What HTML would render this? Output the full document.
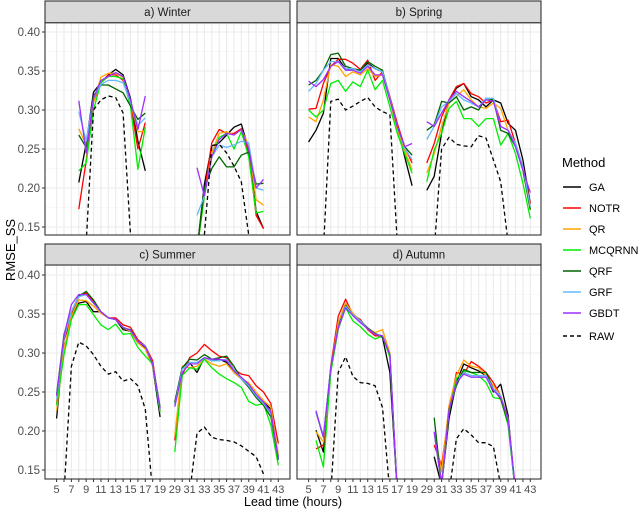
<!DOCTYPE html>
<html><head><meta charset="utf-8">
<style>
html,body{margin:0;padding:0;background:#fff;overflow:hidden;width:640px;height:513px;}
svg{display:block;font-family:"Liberation Sans",Arial,sans-serif;}
</style></head>
<body>
<svg id="chart" width="640" height="513" viewBox="0 0 640 513" xmlns="http://www.w3.org/2000/svg"></svg>
<script>
const n = null;
const categories = [5,6,7,8,9,10,11,12,13,14,15,16,17,18,19,29,30,31,32,33,34,35,36,37,38,39,40,41,42,43];
const tickLabels = [5,7,9,11,13,15,17,19,29,31,33,35,37,39,41,43];
const yTicks = [0.15,0.20,0.25,0.30,0.35,0.40];
const yTickLabels = ["0.15","0.20","0.25","0.30","0.35","0.40"];
const methods = ["GA","NOTR","QR","MCQRNN","QRF","GRF","GBDT","RAW"];
const panelTitles = ["a) Winter","b) Spring","c) Summer","d) Autumn"];

// Winter
const winterGA     = [n,n,n,0.207,0.257,0.323,0.335,0.345,0.352,0.345,0.315,0.260,0.222,n,n, n,n,n,0.12,0.205,0.254,0.258,0.268,0.278,0.282,0.250,0.170,0.148,n,n];
const winterNOTR   = [n,n,n,0.173,0.235,0.310,0.335,0.345,0.345,0.338,0.310,0.250,0.284,n,n, n,n,n,0.12,0.195,0.258,0.275,0.270,0.270,0.276,0.245,0.165,0.148,n,n];
const winterQR     = [n,n,n,0.276,0.255,0.310,0.342,0.347,0.347,0.342,0.310,0.272,0.273,n,n, n,n,n,0.12,0.190,0.245,0.270,0.272,0.268,0.275,0.255,0.185,0.178,n,n];
const winterMCQRNN = [n,n,n,0.222,0.232,0.300,0.335,0.343,0.343,0.340,0.305,0.224,0.278,n,n, n,n,n,0.12,0.190,0.240,0.265,0.270,0.250,0.272,0.240,0.168,0.170,n,n];
const winterQRF    = [n,n,n,0.268,0.252,0.318,0.332,0.332,0.327,0.322,0.305,0.288,0.296,n,n, n,n,n,0.12,0.200,0.225,0.240,0.227,0.227,0.242,0.246,0.205,0.206,n,n];
const winterGRF    = [n,n,n,0.298,0.260,0.315,0.333,0.338,0.338,0.335,0.310,0.280,0.290,n,n, n,n,n,0.165,0.190,0.240,0.255,0.252,0.255,0.260,0.258,0.200,0.197,n,n];
const winterGBDT   = [n,n,n,0.312,0.245,0.315,0.338,0.343,0.348,0.343,0.313,0.275,0.318,n,n, n,n,n,0.226,0.190,0.240,0.262,0.270,0.268,0.275,0.250,0.200,0.211,n,n];
const winterRAW    = [n,n,n,n,0.13,0.300,0.313,0.318,0.316,0.296,0.14,n,n,n,n, n,n,n,n,0.14,0.254,0.256,0.245,0.228,0.208,0.14,n,n,n,n];

// Spring
const springGA     = [0.259,0.274,0.296,0.366,0.366,0.353,0.353,0.351,0.360,0.353,0.349,0.313,0.279,0.240,0.203, 0.197,0.215,0.270,0.313,0.328,0.334,0.317,0.313,0.304,0.313,0.309,0.283,0.274,0.236,0.180];
const springNOTR   = [0.301,0.302,0.334,0.356,0.365,0.365,0.360,0.352,0.364,0.338,0.349,0.317,0.283,0.253,0.232, 0.232,0.257,0.291,0.313,0.330,0.334,0.321,0.317,0.309,0.313,0.285,0.287,0.257,0.227,0.180];
const springQR     = [0.291,0.285,0.313,0.358,0.356,0.343,0.349,0.345,0.353,0.343,0.345,0.313,0.274,0.249,0.223, 0.219,0.244,0.279,0.309,0.317,0.326,0.313,0.304,0.302,0.309,0.302,0.274,0.257,0.223,0.172];
const springMCQRNN = [0.300,0.291,0.300,0.334,0.338,0.324,0.336,0.330,0.351,0.326,0.338,0.304,0.270,0.244,0.219, 0.208,0.249,0.270,0.302,0.311,0.289,0.289,0.279,0.289,0.289,0.255,0.270,0.244,0.206,0.161];
const springQRF    = [0.332,0.338,0.351,0.371,0.373,0.356,0.353,0.351,0.362,0.356,0.351,0.315,0.279,0.253,0.242, 0.274,0.281,0.311,0.309,0.317,0.300,0.304,0.300,0.315,0.313,0.274,0.270,0.253,0.223,0.172];
const springGRF    = [0.324,0.334,0.351,0.362,0.362,0.353,0.353,0.349,0.358,0.353,0.349,0.315,0.279,0.251,0.236, 0.262,0.279,0.304,0.311,0.321,0.313,0.309,0.304,0.315,0.315,0.279,0.274,0.257,0.227,0.176];
const springGBDT   = [0.337,0.330,0.339,0.356,0.362,0.351,0.351,0.347,0.356,0.345,0.345,0.313,0.279,0.253,0.257, 0.285,0.279,0.296,0.313,0.324,0.317,0.311,0.304,0.313,0.311,0.279,0.274,0.253,0.223,0.194];
const springRAW    = [n,n,0.12,0.311,0.314,0.300,0.305,0.311,0.316,0.304,0.298,0.294,0.13,n,n, n,0.12,0.250,0.265,0.256,0.254,0.253,0.267,0.264,0.236,0.208,0.13,n,n,n];

// Summer
const summerGA     = [0.216,0.317,0.345,0.364,0.366,0.353,0.353,0.345,0.343,0.330,0.328,0.313,0.307,0.283,0.218, 0.237,0.281,0.288,0.275,0.294,0.290,0.292,0.288,0.275,0.267,0.258,0.245,0.237,0.228,0.167];
const summerNOTR   = [0.235,0.317,0.349,0.372,0.377,0.366,0.353,0.345,0.345,0.336,0.333,0.317,0.309,0.290,0.226, 0.188,0.271,0.294,0.300,0.311,0.303,0.296,0.294,0.279,0.273,0.271,0.258,0.250,0.235,0.184];
const summerQR     = [0.226,0.305,0.347,0.368,0.367,0.360,0.351,0.345,0.343,0.332,0.328,0.313,0.305,0.283,0.228, 0.194,0.283,0.281,0.283,0.292,0.286,0.283,0.286,0.275,0.267,0.262,0.250,0.239,0.231,0.169];
const summerMCQRNN = [0.233,0.298,0.343,0.362,0.362,0.349,0.336,0.330,0.337,0.324,0.325,0.307,0.296,0.286,0.224, 0.173,0.271,0.281,0.279,0.292,0.281,0.273,0.267,0.262,0.256,0.238,0.233,0.235,0.207,0.156];
const summerQRF    = [0.247,0.324,0.353,0.373,0.379,0.368,0.353,0.345,0.343,0.332,0.330,0.315,0.309,0.286,0.231, 0.235,0.281,0.292,0.291,0.298,0.292,0.294,0.296,0.283,0.267,0.256,0.243,0.233,0.218,0.163];
const summerGRF    = [0.241,0.319,0.353,0.372,0.375,0.364,0.353,0.345,0.343,0.333,0.329,0.315,0.309,0.286,0.228, 0.233,0.279,0.288,0.288,0.294,0.290,0.290,0.292,0.279,0.267,0.258,0.245,0.235,0.222,0.165];
const summerGBDT   = [0.245,0.322,0.362,0.375,0.375,0.364,0.353,0.345,0.343,0.333,0.329,0.315,0.308,0.286,0.229, 0.231,0.275,0.286,0.286,0.294,0.292,0.292,0.290,0.277,0.269,0.260,0.247,0.237,0.224,0.165];
const summerRAW    = [n,0.12,0.283,0.314,0.309,0.298,0.283,0.273,0.276,0.264,0.267,0.258,0.228,0.12,n, n,n,0.12,0.197,0.205,0.192,0.189,0.188,0.186,0.181,0.174,0.167,0.145,n,n];

// Autumn
const autumnGA     = [n,0.201,0.173,0.279,0.334,0.362,0.349,0.341,0.332,0.324,0.320,0.275,0.12,n,n, n,0.167,0.13,0.216,0.262,0.286,0.281,0.277,0.271,0.250,0.260,0.220,0.12,n,n];
const autumnNOTR   = [n,0.177,0.182,0.283,0.347,0.369,0.349,0.343,0.330,0.322,0.322,0.296,0.12,n,n, n,0.182,0.156,0.224,0.275,0.273,0.289,0.283,0.275,0.262,0.245,0.216,0.12,n,n];
const autumnQR     = [n,0.199,0.186,0.279,0.339,0.364,0.351,0.341,0.332,0.326,0.330,0.300,0.12,n,n, n,0.199,0.148,0.233,0.271,0.291,0.283,0.281,0.271,0.258,0.245,0.216,0.12,n,n];
const autumnMCQRNN = [n,0.188,0.154,0.275,0.330,0.358,0.341,0.334,0.324,0.318,0.322,0.294,0.12,n,n, n,0.199,0.13,0.224,0.267,0.277,0.275,0.271,0.262,0.243,0.241,0.207,0.12,n,n];
const autumnQRF    = [n,0.224,0.192,0.281,0.332,0.361,0.349,0.341,0.332,0.325,0.321,0.298,0.12,n,n, n,0.217,0.13,0.228,0.258,0.279,0.275,0.275,0.275,0.254,0.241,0.211,0.12,n,n];
const autumnGRF    = [n,0.224,0.194,0.281,0.332,0.360,0.349,0.341,0.331,0.324,0.322,0.298,0.12,n,n, n,0.199,0.13,0.226,0.262,0.275,0.271,0.271,0.271,0.254,0.245,0.214,0.12,n,n];
const autumnGBDT   = [n,0.226,0.192,0.281,0.332,0.358,0.348,0.339,0.331,0.324,0.322,0.298,0.12,n,n, n,0.199,0.13,0.226,0.262,0.273,0.269,0.269,0.269,0.252,0.243,0.216,0.125,n,n];
const autumnRAW    = [n,n,n,0.12,0.275,0.295,0.270,0.262,0.261,0.258,0.230,0.12,n,n,n, n,n,n,0.12,0.190,0.203,0.195,0.185,0.185,0.180,0.13,n,n,n,n];

const panelSeries = [
  [winterGA,winterNOTR,winterQR,winterMCQRNN,winterQRF,winterGRF,winterGBDT,winterRAW],
  [springGA,springNOTR,springQR,springMCQRNN,springQRF,springGRF,springGBDT,springRAW],
  [summerGA,summerNOTR,summerQR,summerMCQRNN,summerQRF,summerGRF,summerGBDT,summerRAW],
  [autumnGA,autumnNOTR,autumnQR,autumnMCQRNN,autumnQRF,autumnGRF,autumnGBDT,autumnRAW]
];

const colors = {GA:"#000000",NOTR:"#ff0000",QR:"#ffa500",MCQRNN:"#00ee00",QRF:"#006400",GRF:"#63b8ff",GBDT:"#9b30ff",RAW:"#000000"};
const NS = "http://www.w3.org/2000/svg";
const svg = document.getElementById("chart");
function mk(tag, attrs, parent){ const e=document.createElementNS(NS,tag); for(const k in attrs) e.setAttribute(k,attrs[k]); (parent||svg).appendChild(e); return e; }

const panels = [
  {x0:45,x1:290,y0:22.7,y1:235,ytop:32,strip:1},
  {x0:297,x1:541,y0:22.7,y1:235,ytop:32,strip:1},
  {x0:45,x1:290,y0:265,y1:479,ytop:275,strip:244},
  {x0:297,x1:541,y0:265,y1:479,ytop:275,strip:244}
];
function slot(k){ return k<15 ? k : k+1; }
function xScale(p,k){ return p.x0 + 11.6 + slot(k)*7.39; }
function yScale(p,v){ return p.ytop + (0.40 - v)*780; }

const defs = mk("defs",{});
panels.forEach((p,pi)=>{
  const cp = mk("clipPath",{id:"clip"+pi},defs);
  mk("rect",{x:p.x0,y:p.y0,width:p.x1-p.x0,height:p.y1-p.y0},cp);
});

panels.forEach((p,pi)=>{
  const g = mk("g",{});
  
  
  mk("rect",{x:p.x0,y:p.y0,width:p.x1-p.x0,height:p.y1-p.y0,fill:"#fff"},g);
  for(let i=0;i<yTicks.length;i++){
    const y = yScale(p,yTicks[i]-0.025);
    if(y>p.y0 && y<p.y1) mk("line",{x1:p.x0,x2:p.x1,y1:y,y2:y,stroke:"#f2f2f2","stroke-width":0.6},g);
  }
  { const y=yScale(p,0.425); if(y>p.y0) mk("line",{x1:p.x0,x2:p.x1,y1:y,y2:y,stroke:"#f2f2f2","stroke-width":0.6},g); }
  yTicks.forEach(v=>{ const y=yScale(p,v); mk("line",{x1:p.x0,x2:p.x1,y1:y,y2:y,stroke:"#ebebeb","stroke-width":1.1},g); });
  categories.forEach((c,k)=>{ const x=xScale(p,k); mk("line",{x1:x,x2:x,y1:p.y0,y2:p.y1,stroke:"#ebebeb","stroke-width":1.1},g); });
  const sg = mk("g",{"clip-path":"url(#clip"+pi+")"},g);
  panelSeries[pi].forEach((arr,si)=>{
    const m = methods[si];
    let d="", pen=false;
    arr.forEach((v,k)=>{
      if(v===null){ pen=false; return; }
      if(k===15) pen=false;
      d += (pen?"L":"M") + xScale(p,k).toFixed(1) + "," + yScale(p,v).toFixed(1);
      pen=true;
    });
    const path = mk("path",{d:d,fill:"none",stroke:colors[m],"stroke-width":1.3,"stroke-linejoin":"round"},sg);
    if(m==="RAW") path.setAttribute("stroke-dasharray","4,3");
    
    
  });
  mk("rect",{x:p.x0,y:p.y0,width:p.x1-p.x0,height:p.y1-p.y0,fill:"none",stroke:"#333","stroke-width":1.1},g);
  const st = mk("rect",{x:p.x0,y:p.strip,width:p.x1-p.x0,height:p.y0-p.strip,fill:"#d9d9d9",stroke:"#333","stroke-width":1.1},g);
  
  
  const tt = mk("text",{x:(p.x0+p.x1)/2,y:(p.strip+p.y0)/2+4,"text-anchor":"middle","font-size":"11.5",fill:"#1a1a1a"},g);
  tt.textContent = panelTitles[pi];
  
  
  if(pi===0||pi===2){
    yTicks.forEach((v,i)=>{
      const y=yScale(p,v);
      mk("line",{x1:p.x0-3,x2:p.x0,y1:y,y2:y,stroke:"#333","stroke-width":1},g);
      const t=mk("text",{x:p.x0-5,y:y+4,"text-anchor":"end","font-size":"11.5",fill:"#4d4d4d"},g);
      t.textContent=yTickLabels[i];
      
      
    });
  }
  if(pi>=2){
    categories.forEach((c,k)=>{
      const x=xScale(p,k);
      mk("line",{x1:x,x2:x,y1:p.y1,y2:p.y1+3,stroke:"#333","stroke-width":1},g);
      if(tickLabels.indexOf(c)>=0){
        const t=mk("text",{x:x,y:p.y1+14,"text-anchor":"middle","font-size":"11",fill:"#4d4d4d"},g);
        t.textContent=String(c);
        
        
      }
    });
  }
});

const yt = mk("text",{x:0,y:0,"text-anchor":"middle","font-size":"13",fill:"#000",transform:"translate(15,250) rotate(-90)"});
yt.textContent="RMSE_SS";


const xt = mk("text",{x:293,y:506,"text-anchor":"middle","font-size":"12.5",fill:"#000"});
xt.textContent="Lead time (hours)";



const lg = mk("g",{});


const lt = mk("text",{x:562,y:167,"font-size":"13",fill:"#000"},lg);
lt.textContent="Method";


const legendY = [187,208,229,250,271,292,313,336];
methods.forEach((m,i)=>{
  const eg = mk("g",{},lg);
  
  
  const l = mk("line",{x1:563,x2:581,y1:legendY[i],y2:legendY[i],stroke:colors[m],"stroke-width":1.4},eg);
  if(m==="RAW") l.setAttribute("stroke-dasharray","4,3");
  const t = mk("text",{x:589,y:legendY[i]+4,"font-size":"11",fill:"#000"},eg);
  t.textContent=m;
});
</script>
</body></html>
